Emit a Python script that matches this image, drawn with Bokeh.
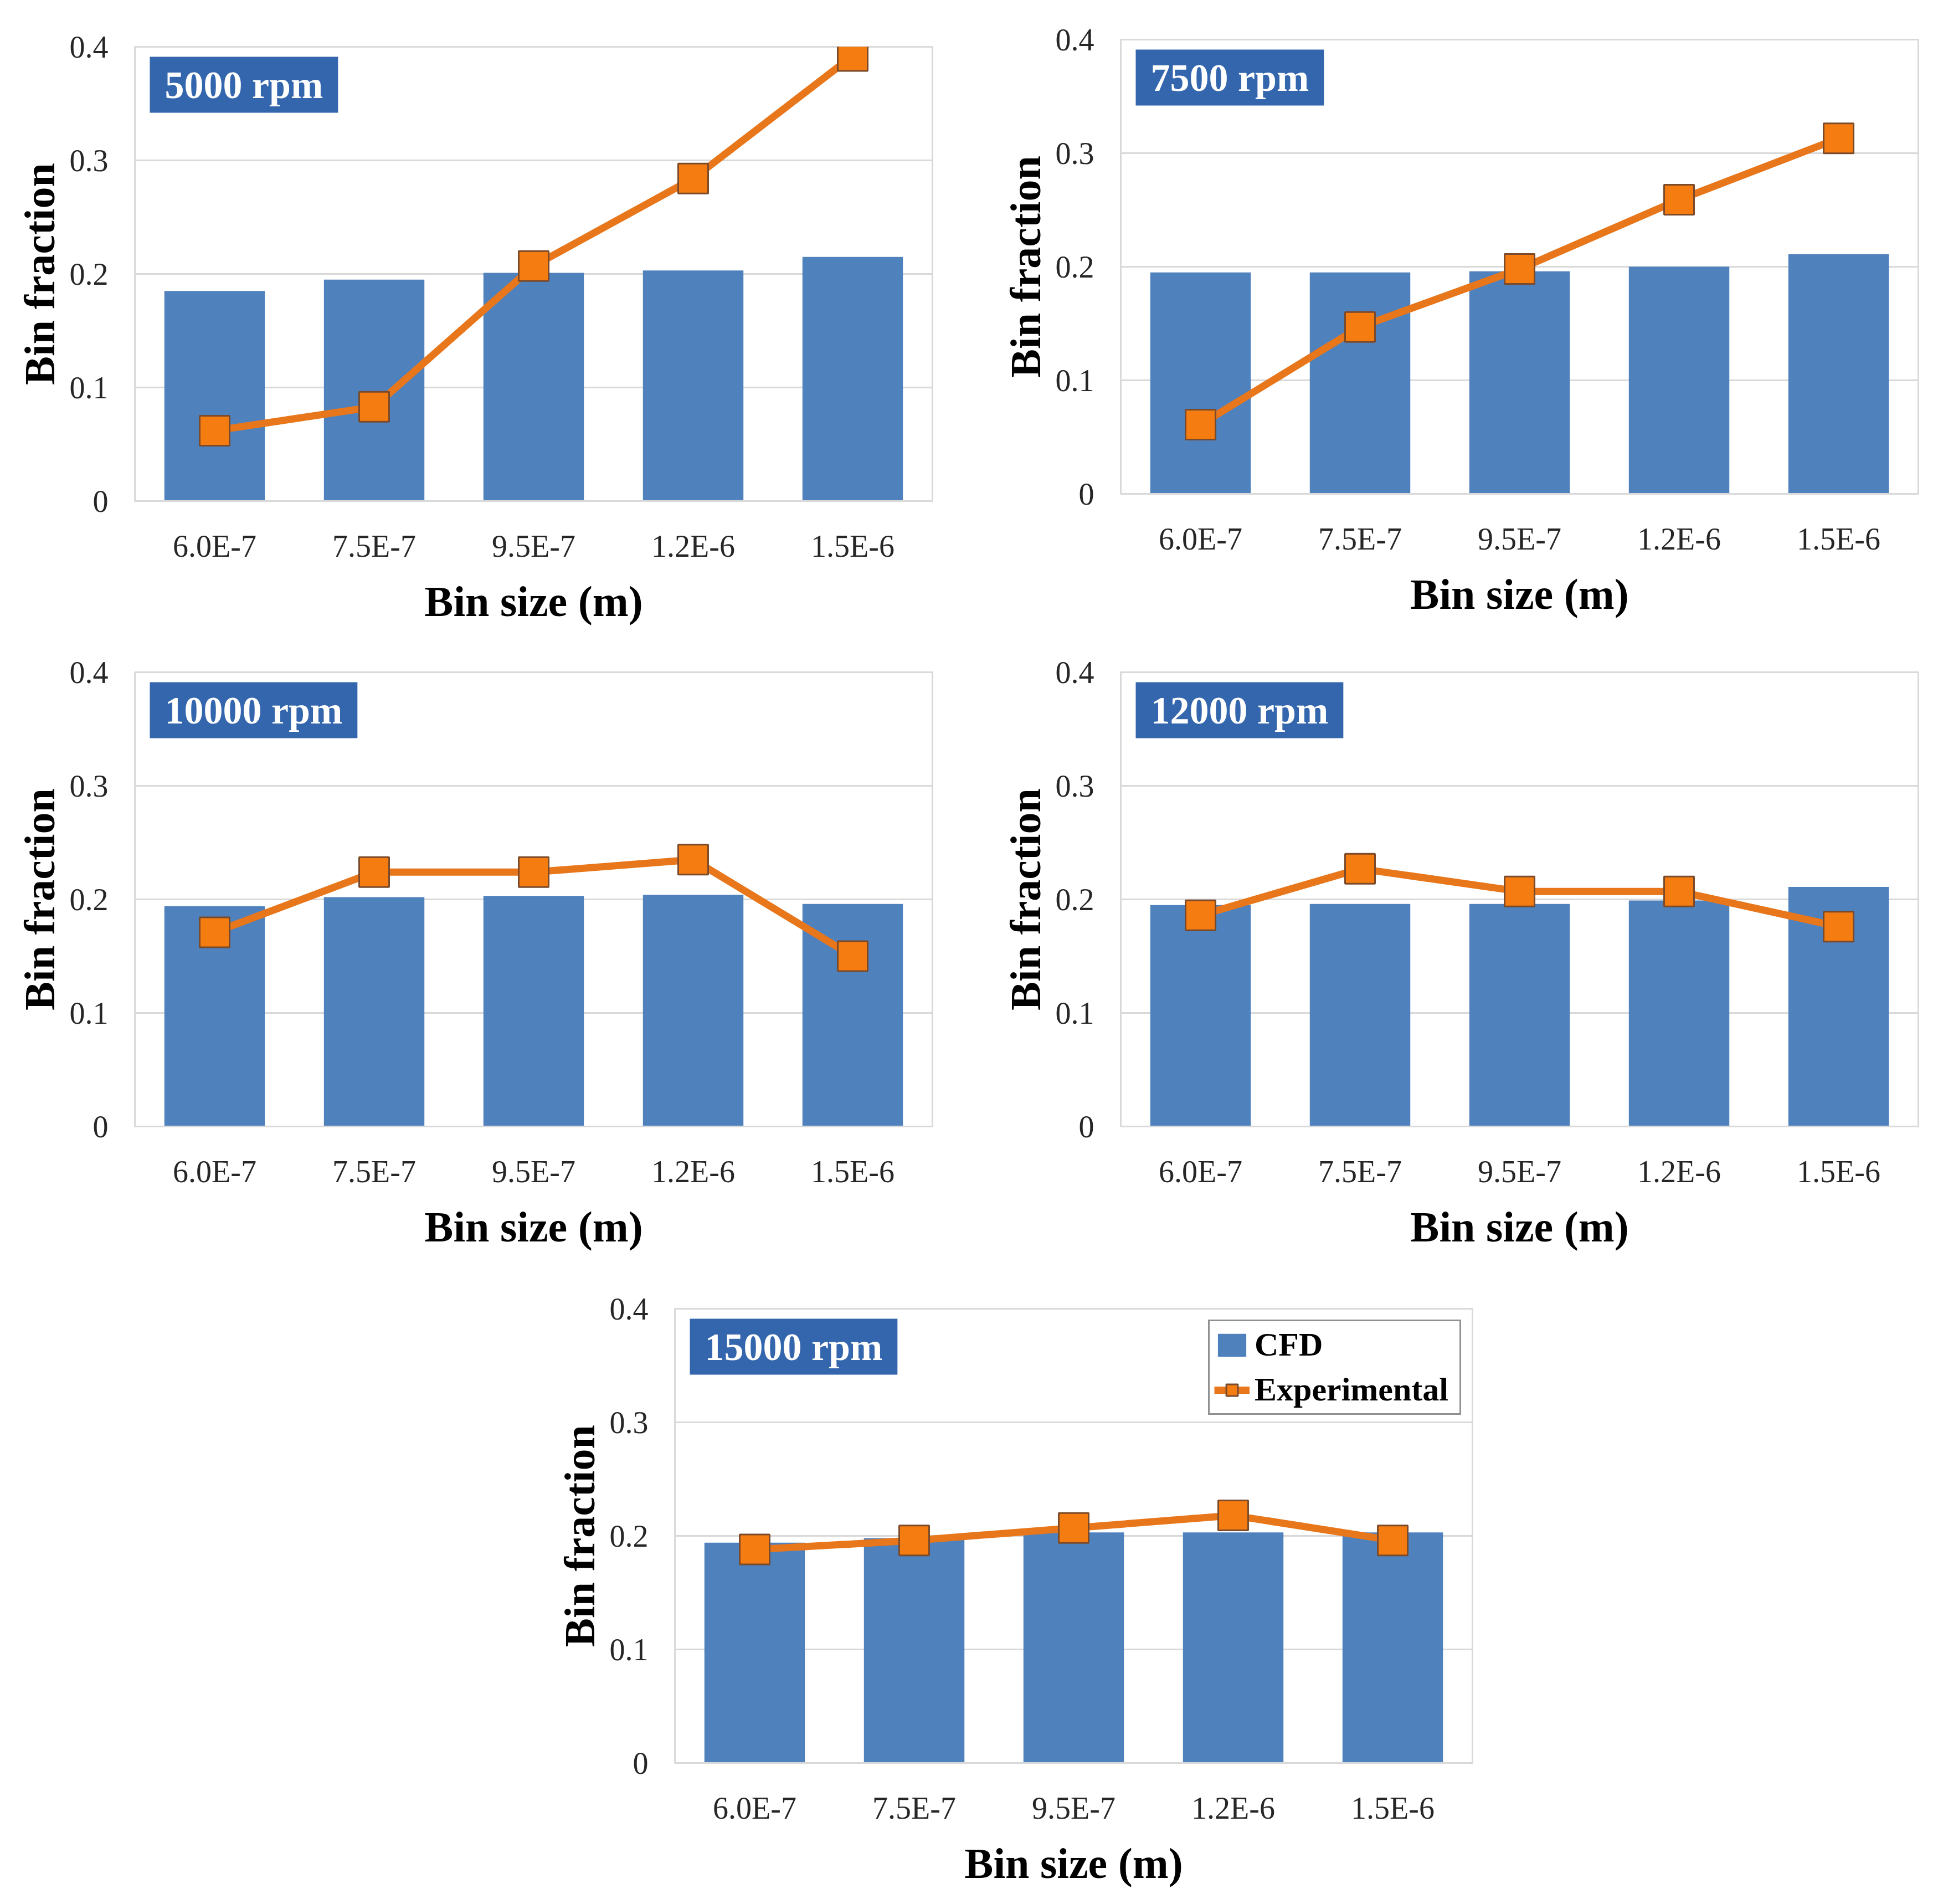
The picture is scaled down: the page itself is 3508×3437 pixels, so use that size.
from bokeh.plotting import figure
from bokeh.models import Range1d, FixedTicker, CustomJSTickFormatter, Label, Legend, LegendItem, Spacer
from bokeh.layouts import column, row
from bokeh.embed import file_html
from bokeh.resources import INLINE

bins = ["6.0E-7", "7.5E-7", "9.5E-7", "1.2E-6", "1.5E-6"]
titles = ["5000 rpm", "7500 rpm", "10000 rpm", "12000 rpm", "15000 rpm"]

cfd_5000 = [0.185, 0.195, 0.201, 0.203, 0.215]
exp_5000 = [0.062, 0.083, 0.207, 0.284, 0.392]
cfd_7500 = [0.195, 0.195, 0.196, 0.200, 0.211]
exp_7500 = [0.061, 0.147, 0.198, 0.259, 0.313]
cfd_10000 = [0.194, 0.202, 0.203, 0.204, 0.196]
exp_10000 = [0.171, 0.224, 0.224, 0.235, 0.150]
cfd_12000 = [0.195, 0.196, 0.196, 0.199, 0.211]
exp_12000 = [0.186, 0.227, 0.207, 0.207, 0.176]
cfd_15000 = [0.194, 0.198, 0.203, 0.203, 0.203]
exp_15000 = [0.188, 0.196, 0.207, 0.218, 0.196]

y_ticks = [0, 0.1, 0.2, 0.3, 0.4]

FONT = "Liberation Serif"
BAR = "#4f81bd"
LINE = "#e8761a"
MFILL = "#f47c10"
MEDGE = "#7a4a2a"
BOX = "#3366ad"
GRID = "#d9d9d9"

FW, FH = 1440, 822
LB, TB, BB, RB = 243, 62, 225, 56
W = LB + FW + RB
H = TB + FH + BB


def panel(title, cfd, exp, legend=False):
    p = figure(x_range=bins, y_range=Range1d(0, 0.4), width=W, height=H,
               output_backend="svg", toolbar_location=None,
               min_border_left=LB, min_border_right=RB,
               min_border_top=TB, min_border_bottom=BB)
    p.outline_line_color = GRID
    p.outline_line_width = 3
    p.xgrid.grid_line_color = None
    p.ygrid.grid_line_color = GRID
    p.ygrid.grid_line_width = 3
    p.yaxis.ticker = FixedTicker(ticks=y_ticks)
    p.yaxis.formatter = CustomJSTickFormatter(code="return tick == 0 ? '0' : tick.toFixed(1);")
    for ax in (p.xaxis, p.yaxis):
        ax.major_tick_line_color = None
        ax.minor_tick_line_color = None
        ax.major_label_text_font = FONT
        ax.major_label_text_font_size = "56px"
        ax.major_label_text_color = "#262626"
        ax.axis_label_text_font = FONT
        ax.axis_label_text_font_size = "78px"
        ax.axis_label_text_font_style = "bold"
        ax.axis_label_text_color = "#000000"
    p.yaxis.axis_line_color = None
    p.xaxis.axis_line_color = GRID
    p.xaxis.axis_line_width = 3
    p.yaxis.major_label_standoff = 42
    p.xaxis.major_label_standoff = 44
    p.yaxis.axis_label = "Bin fraction"
    p.xaxis.axis_label = "Bin size (m)"
    p.yaxis.axis_label_standoff = 8
    p.xaxis.axis_label_standoff = 22

    bars = p.vbar(x=bins, top=cfd, width=0.63, bottom=0, fill_color=BAR, line_color=None)
    ln = p.line(x=bins, y=exp, line_color=LINE, line_width=13)
    sc = p.scatter(x=bins, y=exp, marker="square", size=54, fill_color=MFILL,
                   line_color=MEDGE, line_width=3)

    lab = Label(x=27, y=FH - 20, x_units="screen", y_units="screen", text=title,
                anchor="top_left", text_color="white", text_font=FONT,
                text_font_size="70px", text_font_style="bold",
                background_fill_color=BOX, padding=(27, 12))
    p.add_layout(lab)

    if legend:
        lg = Legend(items=[LegendItem(label="CFD", renderers=[bars]),
                           LegendItem(label="Experimental", renderers=[ln, sc])],
                    location="top_right")
        lg.margin = 20
        lg.padding = 8
        lg.spacing = 12
        lg.border_line_color = "#222222"
        lg.border_line_width = 3
        lg.label_text_font = FONT
        lg.label_text_font_size = "60px"
        lg.label_text_font_style = "bold"
        lg.label_text_color = "#000000"
        lg.label_standoff = 9
        lg.label_width = 362
        lg.glyph_width = 64
        lg.glyph_height = 52
        p.add_layout(lg)
    return p


p1 = panel(titles[0], cfd_5000, exp_5000)
p2 = panel(titles[1], cfd_7500, exp_7500)
p3 = panel(titles[2], cfd_10000, exp_10000)
p4 = panel(titles[3], cfd_12000, exp_12000)
p5 = panel(titles[4], cfd_15000, exp_15000, legend=True)

GAP = 2031 - LB - 8 - W
TOP = 9

row1 = row(column(Spacer(width=W, height=13), p1), Spacer(width=GAP, height=10), p2)
row2 = row(p3, Spacer(width=GAP, height=10), p4)
row3 = row(Spacer(width=1226 - LB - 8, height=10), p5)

layout = column(Spacer(width=10, height=TOP), row1,
                Spacer(width=10, height=1159 - 8 - (13 + H) - TOP), row2,
                Spacer(width=10, height=2315 - 1159 - H - 7), row3)

open("out.html", "w").write(file_html(layout, INLINE))
